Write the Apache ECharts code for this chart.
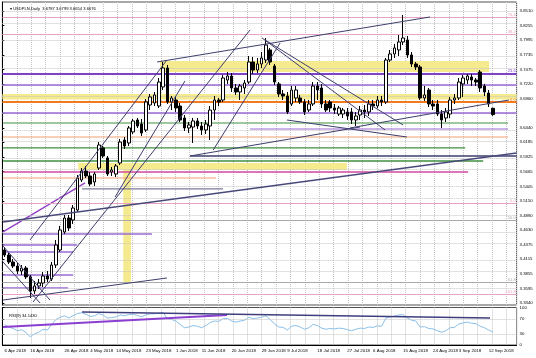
<!DOCTYPE html>
<html><head><meta charset="utf-8">
<script src="https://cdn.jsdelivr.net/npm/echarts@6/dist/echarts.min.js"></script>
<style>html,body{margin:0;padding:0;background:#fff}#c{width:536px;height:358px}</style>
</head><body><div id="c"></div>
<script>
const categories = ['6 Apr 2018','9 Apr 2018','10 Apr 2018','11 Apr 2018','12 Apr 2018','13 Apr 2018','16 Apr 2018','17 Apr 2018','18 Apr 2018','19 Apr 2018','20 Apr 2018','23 Apr 2018','24 Apr 2018','25 Apr 2018','26 Apr 2018','27 Apr 2018','30 Apr 2018',
'1 May 2018','2 May 2018','3 May 2018','4 May 2018','7 May 2018','8 May 2018','9 May 2018','10 May 2018','11 May 2018','14 May 2018','15 May 2018','16 May 2018','17 May 2018','18 May 2018','21 May 2018','22 May 2018','23 May 2018','24 May 2018','25 May 2018','28 May 2018','29 May 2018','30 May 2018','31 May 2018',
'1 Jun 2018','4 Jun 2018','5 Jun 2018','6 Jun 2018','7 Jun 2018','8 Jun 2018','11 Jun 2018','12 Jun 2018','13 Jun 2018','14 Jun 2018','15 Jun 2018','18 Jun 2018','19 Jun 2018','20 Jun 2018','21 Jun 2018','22 Jun 2018','25 Jun 2018','26 Jun 2018','27 Jun 2018','28 Jun 2018','29 Jun 2018',
'2 Jul 2018','3 Jul 2018','4 Jul 2018','5 Jul 2018','6 Jul 2018','9 Jul 2018','10 Jul 2018','11 Jul 2018','12 Jul 2018','13 Jul 2018','16 Jul 2018','17 Jul 2018','18 Jul 2018','19 Jul 2018','20 Jul 2018','23 Jul 2018','24 Jul 2018','25 Jul 2018','26 Jul 2018','27 Jul 2018','30 Jul 2018','31 Jul 2018',
'1 Aug 2018','2 Aug 2018','3 Aug 2018','6 Aug 2018','7 Aug 2018','8 Aug 2018','9 Aug 2018','10 Aug 2018','13 Aug 2018','14 Aug 2018','15 Aug 2018','16 Aug 2018','17 Aug 2018','20 Aug 2018','21 Aug 2018','22 Aug 2018','23 Aug 2018','24 Aug 2018','27 Aug 2018','28 Aug 2018','29 Aug 2018','30 Aug 2018','31 Aug 2018',
'3 Sep 2018','4 Sep 2018','5 Sep 2018','6 Sep 2018','7 Sep 2018','10 Sep 2018','11 Sep 2018','12 Sep 2018','13 Sep 2018'];
const shiftSlots = ['s1','s2','s3','s4','s5'];
const dateLabels = ['6 Apr 2018','16 Apr 2018','26 Apr 2018','4 May 2018','14 May 2018','23 May 2018','1 Jun 2018','11 Jun 2018','20 Jun 2018','29 Jun 2018','9 Jul 2018','18 Jul 2018','27 Jul 2018','6 Aug 2018','15 Aug 2018','24 Aug 2018','3 Sep 2018','12 Sep 2018'];

const openP = [3.4279,3.4190,3.4066,3.3995,3.3907,3.3960,3.3801,3.3553,3.3641,3.3694,
3.3818,3.3765,3.4013,3.4279,3.4597,3.4845,3.4810,3.4987,3.5518,3.5677,
3.5589,3.5483,3.5730,3.6085,3.5908,3.5660,3.5624,3.5819,3.6226,3.6173,
3.6368,3.6580,3.6509,3.6403,3.6846,3.6881,3.6828,3.7165,3.7501,3.6899,
3.6934,3.6828,3.6616,3.6439,3.6456,3.6563,3.6474,3.6403,3.6474,3.6757,
3.6934,3.6934,3.7288,3.7359,3.7147,3.7076,3.7147,3.7253,3.7607,3.7465,
3.7572,3.7642,3.7820,3.7536,3.7218,3.7041,3.7005,3.6864,3.6970,3.6970,
3.6899,3.6757,3.6864,3.7182,3.7147,3.6864,3.6899,3.6793,3.6686,3.6686,
3.6722,3.6722,3.6580,3.6669,3.6757,3.6722,3.6864,3.6828,3.6934,3.6899,
3.7642,3.7749,3.7820,3.7961,3.7997,3.7731,3.7572,3.7519,3.6970,3.7111,
3.6864,3.6864,3.6686,3.6616,3.6686,3.6934,3.6970,3.7218,3.7288,3.7342,
3.7288,3.7430,3.7182,3.7058,3.6787];
const closeP = [3.4190,3.4066,3.3995,3.3907,3.3960,3.3801,3.3553,3.3641,3.3694,3.3818,
3.3765,3.4013,3.4367,3.4633,3.4845,3.4668,3.5022,3.5553,3.5677,3.5589,
3.5447,3.5624,3.6138,3.5943,3.5624,3.5695,3.5766,3.6191,3.6120,3.6439,
3.6563,3.6474,3.6350,3.6899,3.6988,3.7023,3.7253,3.7501,3.6899,3.6970,
3.6793,3.6580,3.6439,3.6492,3.6563,3.6474,3.6403,3.6509,3.6757,3.6934,
3.6899,3.7324,3.7359,3.7147,3.7076,3.7182,3.7235,3.7607,3.7465,3.7572,
3.7678,3.7908,3.7607,3.7253,3.7041,3.7005,3.6722,3.7111,3.7111,3.6899,
3.6722,3.6864,3.7182,3.7111,3.6864,3.6757,3.6793,3.6757,3.6793,3.6757,
3.6651,3.6580,3.6651,3.6757,3.6722,3.6864,3.6828,3.6934,3.6899,3.7642,
3.7749,3.7855,3.7961,3.8032,3.7731,3.7572,3.7519,3.6970,3.7023,3.6864,
3.6828,3.6686,3.6580,3.6722,3.6934,3.6970,3.7253,3.7324,3.7359,3.7288,
3.7253,3.7147,3.7076,3.6864,3.6676];
const highP = [3.4332,3.4226,3.4119,3.4048,3.4013,3.3995,3.3836,3.3730,3.3765,3.3889,
3.3907,3.4066,3.4456,3.4704,3.4898,3.4898,3.5075,3.5607,3.5730,3.5766,
3.5660,3.5660,3.6191,3.6120,3.5943,3.5748,3.5801,3.6244,3.6279,3.6474,
3.6598,3.6616,3.6598,3.6952,3.7041,3.7076,3.7324,3.7607,3.7554,3.7005,
3.7005,3.6881,3.6669,3.6545,3.6616,3.6616,3.6545,3.6580,3.6828,3.7005,
3.6970,3.7377,3.7430,3.7412,3.7218,3.7218,3.7288,3.7713,3.7696,3.7678,
3.7784,3.8032,3.7855,3.7572,3.7253,3.7111,3.7076,3.7182,3.7182,3.7023,
3.6952,3.6934,3.7253,3.7253,3.7218,3.6934,3.6934,3.6864,3.6828,3.6793,
3.6793,3.6793,3.6722,3.6828,3.6846,3.6934,3.6934,3.7005,3.7005,3.7678,
3.7820,3.7926,3.8085,3.8439,3.8067,3.7784,3.7607,3.7554,3.7182,3.7147,
3.6934,3.6934,3.6757,3.6793,3.6988,3.7041,3.7324,3.7377,3.7395,3.7395,
3.7324,3.7465,3.7218,3.7111,3.6799];
const lowP = [3.4155,3.4031,3.3960,3.3854,3.3836,3.3765,3.3429,3.3500,3.3588,3.3624,
3.3712,3.3730,3.3960,3.4243,3.4562,3.4615,3.4739,3.4951,3.5483,3.5553,
3.5412,3.5412,3.5695,3.5908,3.5589,3.5589,3.5571,3.5784,3.6067,3.6120,
3.6332,3.6439,3.6297,3.6368,3.6757,3.6828,3.6793,3.7111,3.6864,3.6757,
3.6722,3.6545,3.6386,3.6350,3.6173,3.6421,3.6315,3.6332,3.6226,3.6580,
3.6828,3.6899,3.7218,3.7076,3.7023,3.6934,3.7041,3.7218,3.7395,3.7412,
3.7501,3.7589,3.7554,3.7200,3.6988,3.6934,3.6686,3.6828,3.6899,3.6864,
3.6669,3.6722,3.6828,3.6934,3.6793,3.6722,3.6722,3.6686,3.6651,3.6616,
3.6580,3.6509,3.6474,3.6580,3.6616,3.6651,3.6757,3.6793,3.6828,3.6864,
3.7607,3.7678,3.7713,3.7908,3.7678,3.7519,3.7465,3.6934,3.6917,3.6810,
3.6757,3.6651,3.6439,3.6545,3.6616,3.6864,3.6934,3.6988,3.7218,3.7182,
3.7182,3.7076,3.7005,3.6810,3.6654];
const rsiValues = [54,48,44,38,41,33,22,30,34,42,
40,55,68,74,78,72,78,84,86,82,
76,78,84,80,72,73,75,80,78,81,
82,79,75,81,83,83,85,87,70,68,
64,55,46,48,52,50,46,52,60,64,
63,70,71,64,61,64,66,74,70,72,
74,78,68,56,48,47,40,50,52,48,
42,46,55,52,45,42,44,43,45,44,
41,38,42,45,44,48,47,51,50,72,
75,77,80,81,72,66,64,48,49,44,
43,38,34,38,46,47,56,59,61,58,
57,50,46,40,34.143];

const priceTicks = [3.8510,3.8255,3.7995,3.7735,3.7475,3.7220,3.6960,3.6700,3.6440,3.6185,3.5925,3.5665,3.5405,3.5150,3.4890,3.4630,3.4375,3.4115,3.3855,3.3595,3.3340];
const priceTickLabels = ['3.8510','3.8255','3.7995','3.7735','3.7475','3.7220','3.6960','','3.6440','3.6185','3.5925','3.5665','3.5405','3.5150','3.4890','3.4630','3.4375','3.4115','3.3855','3.3595','3.3340'];
const rsiTicks = [0,30,70,100];
const rsiTickLabels = ['0','30','70','100'];
const lastPrice = 3.6676;
const titleText = 'USDPLN,Daily  3.6787 3.6799 3.6654 3.6676';
const rsiTitle = 'RSI(9) 34.1430';

// full-width horizontal levels: price and label
const levelPrices = [3.8404,3.8050,3.7377,3.7218,3.6943,3.6704,3.5111,3.4828,3.3677,3.3500];
const levelTexts  = ['76.4','38.2','23.6','','0.0','','0.0','50.0','61.8','161.8'];
// partial horizontal segments: [fromBar, toBar, price]
const hSegments = [[-0.35,117.5,3.6527],[57.3,117.5,3.6421],[-0.35,117.5,3.6279],[-0.35,107.5,3.6085],[43.3,119.5,3.5943],[-0.35,111.7,3.5854],[-0.35,108.2,3.5660],[-0.35,49.4,3.5553],[18.1,51.0,3.5359],[-0.35,34.4,3.4562],[-0.35,16.9,3.4367],[-0.35,16.0,3.4243],[-0.35,16.0,3.3836],[-0.35,14.8,3.3606]];
// trend lines: [bar1, price1, bar2, price2]
const trendLines = [[-0.35,3.4349,10.6,3.3393],[-0.35,3.4066,8.3,3.3340],[-0.35,3.3393,37.9,3.3783],[-0.35,3.4774,119.5,3.5996],[6.65,3.3358,57.3,3.8174],[5.95,3.4456,37.9,3.7642],[48.7,3.6049,64.3,3.7943],[35.6,3.7607,99.3,3.8404],[60.1,3.8032,88.8,3.6403],[60.8,3.7997,93.0,3.6492],[43.3,3.5943,82.96,3.6456],[80.6,3.6439,117.7,3.6934],[65.9,3.6580,93.9,3.6279],[25.8,3.5217,42.1,3.7271]];
// purple rising lines: [bar1, price1, bar2, price2]
const purpleTrend = [[-0.35,3.4598,18.8,3.5466]];
// rectangles: [bar1, price1, bar2, price2]
const rects = [[-0.5,3.7041,119.5,3.6943],[36.3,3.7625,113.1,3.7430],[17.2,3.5819,79.9,3.5695],[27.7,3.5730,29.5,3.3712]];
// RSI trend lines: [bar1, rsi1, bar2, rsi2]
const rsiTrend = [[-0.35,48,51.9,80],[18.1,88,113.3,72]];

// ---- styles (kept apart from data) ----
const PINK='#e6a4c4', PURPLE='#7d42c8', MPURPLE='#9a6bd4', ORANGE='#f37a1f', GREEN='#3f8f3f', SALMON='#f2a274', NAVY='#3e3e6e', MAGENTA='#cf4aa0', GRAY='#a9a9a9', YELLOW='#f6ea8e';
const levelStyle = [[PINK,1],[PINK,1],[PURPLE,2],[MPURPLE,1.5],[ORANGE,2],[MPURPLE,1.5],[PINK,1],[GRAY,1],[GRAY,1],[PINK,1]];
const hSegStyle = [[GREEN,1.2],[MPURPLE,1.2],[SALMON,1.2],[GREEN,1.2],[NAVY,1.6],[GREEN,1.6],[MAGENTA,1.4],[SALMON,1.2],['#7a7a9a',1.2],[MPURPLE,1.4],[MPURPLE,1.4],[MPURPLE,1.4],[MPURPLE,1.4],[MPURPLE,1.4]];
const trendStyle = [[NAVY,1],[NAVY,1],[NAVY,1],['#4a4a7a',1.6],[NAVY,1],[NAVY,1],[NAVY,1],[NAVY,1],[NAVY,1],[NAVY,1],[NAVY,1],[NAVY,1],[NAVY,1],[NAVY,1]];
const FONT = 'Liberation Sans';
const AX_FS = 4.3, X_FS = 4.4, TITLE_FS = 4.1;

const cats = categories.concat(shiftSlots);
const gridW = 514.2;
const series = [];

// horizontal dotted price grid
series.push({type:'line', xAxisIndex:0, yAxisIndex:0, data:[], silent:true, z:1,
  markLine:{silent:true, symbol:['none','none'], animation:false, label:{show:false},
    lineStyle:{type:'dotted', color:'#c4c4c4', width:1},
    data: priceTicks.map(v=>({yAxis:v}))}});
// rectangles
series.push({type:'line', xAxisIndex:4, yAxisIndex:0, data:[], silent:true, z:2,
  markArea:{silent:true, itemStyle:{color:YELLOW, opacity:1},
    data: rects.map(r=>[{xAxis:r[0], yAxis:r[1]},{xAxis:r[2], yAxis:r[3]}])}});
// full-width levels
series.push({type:'line', xAxisIndex:0, yAxisIndex:0, data:[], silent:true, z:3,
  markLine:{silent:true, symbol:['none','none'], animation:false,
    data: levelPrices.map((v,i)=>({yAxis:v, lineStyle:{color:levelStyle[i][0], width:levelStyle[i][1], type:'solid'},
      label:{show: levelTexts[i]!=='', formatter: levelTexts[i], position:'insideEndTop', distance:[1,0.5], fontSize:4, fontFamily:FONT, color:levelStyle[i][0]}}))}});
// partial horizontal segments
hSegments.forEach((s,i)=>{
  series.push({type:'line', xAxisIndex:4, yAxisIndex:0, silent:true, z:3, showSymbol:false, symbol:'none',
    lineStyle:{color:hSegStyle[i][0], width:hSegStyle[i][1]}, data:[[s[0],s[2]],[s[1],s[2]]]});
});
purpleTrend.forEach((t)=>{
  series.push({type:'line', xAxisIndex:4, yAxisIndex:0, silent:true, z:4, showSymbol:false, symbol:'none',
    lineStyle:{color:'#9440c8', width:1.4}, data:[[t[0],t[1]],[t[2],t[3]]]});
});
// candles
series.push({type:'candlestick', xAxisIndex:0, yAxisIndex:0, z:5, barWidth:3,
  itemStyle:{color:'#ffffff', color0:'#000000', borderColor:'#000000', borderColor0:'#000000', borderWidth:1},
  data: openP.map((o,i)=>[o, closeP[i], lowP[i], highP[i]]),
  markLine:{silent:true, symbol:['none','none'], animation:false,
    data:[{yAxis:lastPrice, lineStyle:{color:'#000', width:0, opacity:0},
      label:{show:true, position:'end', distance:1, formatter: lastPrice.toFixed(4), backgroundColor:'#000', color:'#fff', fontSize:AX_FS, fontFamily:FONT, padding:[1,2,1,2]}}]}});
// trend lines
trendLines.forEach((t,i)=>{
  series.push({type:'line', xAxisIndex:4, yAxisIndex:0, silent:true, z:6, showSymbol:false, symbol:'none',
    lineStyle:{color:trendStyle[i][0], width:trendStyle[i][1]}, data:[[t[0],t[1]],[t[2],t[3]]]});
});
// RSI
series.push({type:'line', xAxisIndex:1, yAxisIndex:1, data: rsiValues, showSymbol:false, symbol:'none', z:4,
  lineStyle:{color:'#8cc0e8', width:1},
  markLine:{silent:true, symbol:['none','none'], animation:false, label:{show:false},
    lineStyle:{type:'dotted', color:'#c4c4c4', width:1}, data:[{yAxis:30},{yAxis:70}]}});
rsiTrend.forEach((t,i)=>{
  series.push({type:'line', xAxisIndex:5, yAxisIndex:1, silent:true, z:6, showSymbol:false, symbol:'none',
    lineStyle:{color: i===0 ? '#8a3fd0' : '#3e3e7e', width: i===0 ? 2 : 1.5}, data:[[t[0],t[1]],[t[2],t[3]]]});
});

const labelFilter = (idx, val) => dateLabels.indexOf(val) >= 0;
const option = {
  animation:false,
  backgroundColor:'#ffffff',
  title:[
    {text: '\u25BE ' + titleText, left:5, top:2, textStyle:{fontSize:TITLE_FS, fontWeight:'normal', color:'#000', fontFamily:FONT}},
    {text: rsiTitle, left:4, top:308.5, textStyle:{fontSize:TITLE_FS, fontWeight:'normal', color:'#000', fontFamily:FONT}}
  ],
  grid:[
    {left:2.4, top:2, width:gridW, height:303, show:true, borderColor:'#505050', borderWidth:1, backgroundColor:'transparent'},
    {left:2.4, top:307.5, width:gridW, height:37.5, show:true, borderColor:'#505050', borderWidth:1, backgroundColor:'transparent'}
  ],
  xAxis:[
    {type:'category', gridIndex:0, data:cats, boundaryGap:true, axisLine:{show:false}, axisTick:{show:false}, axisLabel:{show:false}, splitLine:{show:false}},
    {type:'category', gridIndex:1, data:cats, boundaryGap:true, axisLine:{show:true, lineStyle:{color:'#000'}}, axisTick:{show:false},
      axisLabel:{show:true, interval:labelFilter, hideOverlap:false, align:'left', fontSize:X_FS, fontFamily:FONT, color:'#000', margin:3.5}, splitLine:{show:false}},
    {type:'value', gridIndex:0, min:0, max:gridW, interval:14.4, axisLine:{show:false}, axisTick:{show:false}, axisLabel:{show:false}, splitLine:{show:true, lineStyle:{type:'dotted', color:'#c4c4c4'}}},
    {type:'value', gridIndex:1, min:0, max:gridW, interval:14.4, axisLine:{show:false}, axisTick:{show:false}, axisLabel:{show:false}, splitLine:{show:true, lineStyle:{type:'dotted', color:'#c4c4c4'}}},
    {type:'value', gridIndex:0, min:-0.5, max:119.5, show:false},
    {type:'value', gridIndex:1, min:-0.5, max:119.5, show:false}
  ],
  yAxis:[
    {type:'value', gridIndex:0, position:'right', min:3.3305, max:3.8669, scale:true,
      axisLine:{show:true, lineStyle:{color:'#000'}}, splitLine:{show:false},
      axisTick:{show:true, length:2, customValues: priceTicks, lineStyle:{color:'#000'}},
      axisLabel:{show:true, hideOverlap:false, customValues: priceTicks, formatter:(v)=>{const k=priceTicks.indexOf(v); return k>=0?priceTickLabels[k]:'';}, fontSize:AX_FS, fontFamily:FONT, color:'#000', margin:3}},
    {type:'value', gridIndex:1, position:'right', min:0, max:100,
      axisLine:{show:true, lineStyle:{color:'#000'}}, splitLine:{show:false},
      axisTick:{show:true, length:2, customValues: rsiTicks, lineStyle:{color:'#000'}},
      axisLabel:{show:true, hideOverlap:false, customValues: rsiTicks, formatter:(v)=>{const k=rsiTicks.indexOf(v); return k>=0?rsiTickLabels[k]:'';}, fontSize:AX_FS, fontFamily:FONT, color:'#000', margin:3}}
  ],
  series: series
};
const chart = echarts.init(document.getElementById('c'));
chart.setOption(option);
</script></body></html>
